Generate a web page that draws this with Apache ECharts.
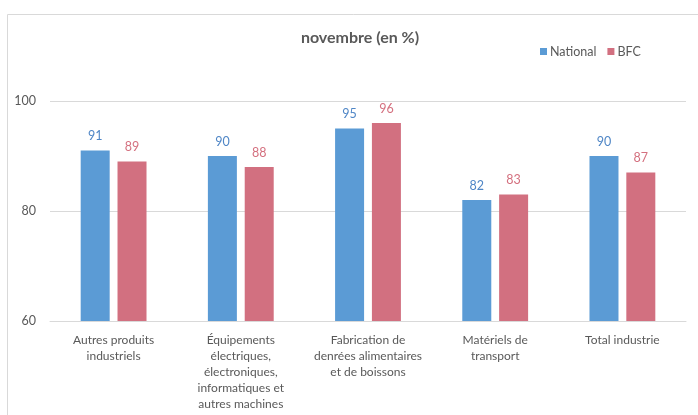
<!DOCTYPE html>
<html>
<head>
<meta charset="utf-8">
<script src="https://cdn.jsdelivr.net/npm/echarts@6/dist/echarts.min.js"></script>
<style>
html, body { margin: 0; padding: 0; background: #fff; }
#myChart { width: 698px; height: 415px; }
</style>
</head>
<body>
<div id="myChart"></div>
<script>
//données
var categories = [
    'Autres produits\nindustriels',
    'Équipements\nélectriques,\nélectroniques,\ninformatiques et\nautres machines',
    'Fabrication de\ndenrées alimentaires\net de boissons',
    'Matériels de\ntransport',
    'Total industrie'
];
var nationalData = [91, 90, 95, 82, 90];
var bfcData = [89, 88, 96, 83, 87];
var yTicks = [60, 80, 100];

var fontFamily = 'Lato, "Open Sans", sans-serif';
var textColor = '#595959';

//séries
function getSeries() {
    return [{
        name: 'National',
        type: 'bar',
        data: nationalData,
        barWidth: 29,
        barGap: '27%',
        itemStyle: { color: '#5b9bd5' },
        label: {
            show: true,
            position: 'top',
            distance: 8,
            color: '#4f86c6',
            fontSize: 12.5,
            fontFamily: fontFamily
        }
    }, {
        name: 'BFC',
        type: 'bar',
        data: bfcData,
        barWidth: 29,
        itemStyle: { color: '#d27080' },
        label: {
            show: true,
            position: 'top',
            distance: 8,
            color: '#d4707f',
            fontSize: 12.5,
            fontFamily: fontFamily
        }
    }];
}

var myChart = echarts.init(document.getElementById('myChart'));
var option = {
    animation: false,
    textStyle: { fontFamily: fontFamily },
    graphic: [{
        type: 'rect',
        shape: { x: 7.5, y: 14.5, width: 700, height: 410 },
        style: { fill: 'none', stroke: '#d9d9d9', lineWidth: 1 },
        z: -1
    }],
    title: {
        text: 'novembre (en %)',
        left: 355,
        textAlign: 'center',
        top: 25,
        textStyle: {
            fontSize: 16,
            fontWeight: 'bold',
            color: textColor,
            fontFamily: fontFamily
        }
    },
    legend: {
        data: ['National', 'BFC'],
        left: 535,
        top: 40,
        itemWidth: 7,
        itemHeight: 7,
        itemGap: 11,
        icon: 'rect',
        textStyle: { fontSize: 12.5, color: textColor, padding: [0, 0, 0, -2] }
    },
    grid: {
        top: 101,
        bottom: 94,
        left: 50,
        right: 12
    },
    xAxis: {
        type: 'category',
        data: categories,
        axisTick: { show: false },
        axisLine: { lineStyle: { color: '#d9d9d9' } },
        axisLabel: {
            interval: 0,
            margin: 11,
            color: textColor,
            fontSize: 12,
            lineHeight: 16
        }
    },
    yAxis: {
        type: 'value',
        min: yTicks[0],
        max: yTicks[yTicks.length - 1],
        interval: 20,
        axisLine: { show: false },
        axisTick: { show: false },
        axisLabel: { color: textColor, fontSize: 12.5, margin: 14 },
        splitLine: { lineStyle: { color: '#d9d9d9', width: 1 } }
    },
    series: getSeries()
};
myChart.setOption(option);
</script>
</body>
</html>
